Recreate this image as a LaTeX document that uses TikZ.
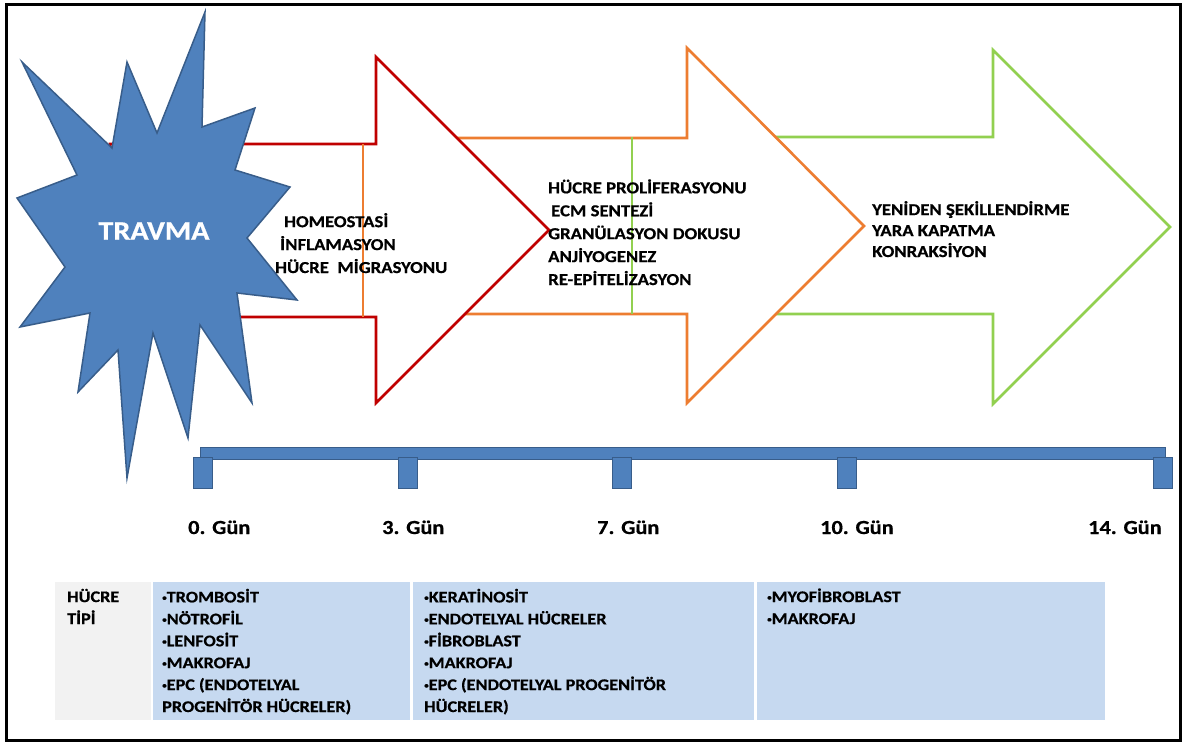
\documentclass[tikz,border=0pt]{standalone}
\usepackage{fontspec}
\setmainfont{Carlito}[FakeStretch=1.12,BoldFeatures={FakeBold=0.6}]
\usetikzlibrary{positioning,calc}
\definecolor{StarBlue}{RGB}{79,129,189}
\definecolor{StarEdge}{RGB}{56,93,138}
\definecolor{PhaseRed}{RGB}{192,0,0}
\definecolor{PhaseOrange}{RGB}{237,125,49}
\definecolor{PhaseGreen}{RGB}{146,208,80}
\definecolor{CellBlue}{RGB}{198,217,240}
\definecolor{CellGrey}{RGB}{242,242,242}
\newcommand{\bul}{\raisebox{0.25ex}{\scalebox{0.5}{•}}}
\tikzset{
  phase/.style={line width=2.6bp,fill=white,line join=miter},
  phasetxt/.style={anchor=base west,align=left,inner sep=0pt,
                   font=\fontsize{16.8}{23}\selectfont\bfseries},
  tickbox/.style={fill=StarBlue,draw=StarEdge,line width=1bp},
  daytxt/.style={anchor=base west,inner sep=0pt,font=\fontsize{20}{24}\selectfont\bfseries},
  celltxt/.style={anchor=base west,align=left,inner sep=0pt,
                  font=\fontsize{16.3}{22}\selectfont\bfseries},
}

\begin{document}
\begin{tikzpicture}[x=1bp,y=-1bp]
  \useasboundingbox (0,0) rectangle (1190,743);
  % phase arrows, drawn back to front
  \draw[phase,draw=PhaseGreen] (760,137) -- (993,137) -- (993,50) -- (1170,227)
    -- (993,404) -- (993,314) -- (760,314) -- cycle;
  \draw[phase,draw=PhaseOrange] (420,138) -- (687,138) -- (687,48) -- (864,226)
    -- (687,403) -- (687,314) -- (420,314) -- cycle;
  \draw[phase,draw=PhaseRed] (110,144) -- (376,144) -- (376,57) -- (549,230)
    -- (376,403) -- (376,317) -- (110,317) -- cycle;
  \draw[PhaseOrange,line width=1.2bp] (363,144) -- (363,317);
  \draw[PhaseGreen,line width=1.2bp] (632,137) -- (632,314);

  % trauma burst
  \draw[fill=StarBlue,draw=StarEdge,line width=1.5bp,line join=miter]
    (205,12) -- (202,127) -- (255,108) -- (235,170) -- (290,187) -- (247,238)
    -- (297,300) -- (237,293) -- (252,403) -- (200,325) -- (188,438)
    -- (153,333) -- (127,478) -- (118,350) -- (78,392) -- (90,313)
    -- (20,327) -- (65,267) -- (17,198) -- (77,175) -- (22,62)
    -- (112,148) -- (127,62) -- (157,133) -- cycle;
  \node[text=white,font=\fontsize{27}{30}\selectfont\bfseries] (travma) at (154,231) {TRAVMA};

  % phase texts (anchored at the baseline of their last line)
  \node[phasetxt] (early) at (275,273)
    {\hspace*{9bp}HOMEOSTASİ\\\hspace*{5bp}İNFLAMASYON\\HÜCRE~ MİGRASYONU};
  \node[phasetxt] (middle) at (548,285)
    {HÜCRE PROLİFERASYONU\\\hspace*{3bp}ECM SENTEZİ\\GRANÜLASYON DOKUSU\\ANJİYOGENEZ\\RE-EPİTELİZASYON};
  \node[phasetxt,font=\fontsize{16.8}{21}\selectfont\bfseries] (late) at (872,257)
    {YENİDEN ŞEKİLLENDİRME\\YARA KAPATMA\\KONRAKSİYON};

  % time axis
  \draw[tickbox] (200,447) rectangle (1165,459);
  \foreach \x/\d/\lx in {203/0/188,408/3/382,622/7/597,847/10/820,1163/14/1088}{
    \draw[tickbox] (\x-9.5,457) rectangle (\x+9.5,488);
    \node[daytxt] (day\d) at (\lx,534) {\d. Gün};
  }

  % cell types
  \fill[CellGrey] (55,582) rectangle (151,720);
  \fill[CellBlue] (153,582) rectangle (410,720);
  \fill[CellBlue] (413,582) rectangle (754,720);
  \fill[CellBlue] (757,582) rectangle (1105,720);
  \node[celltxt] (hdr) at (67,624) {HÜCRE\\TİPİ};
  \node[celltxt] (cellA) at (162,712)
    {\bul TROMBOSİT\\\bul NÖTROFİL\\\bul LENFOSİT\\\bul MAKROFAJ\\\bul EPC (ENDOTELYAL\\PROGENİTÖR HÜCRELER)};
  \node[celltxt] (cellB) at (424,712)
    {\bul KERATİNOSİT\\\bul ENDOTELYAL HÜCRELER\\\bul FİBROBLAST\\\bul MAKROFAJ\\\bul EPC (ENDOTELYAL PROGENİTÖR\\HÜCRELER)};
  \node[celltxt] (cellC) at (767,624) {\bul MYOFİBROBLAST\\\bul MAKROFAJ};

  % frame
  \draw[line width=3bp] (6.5,5) rectangle (1180,740);
\end{tikzpicture}
\end{document}
